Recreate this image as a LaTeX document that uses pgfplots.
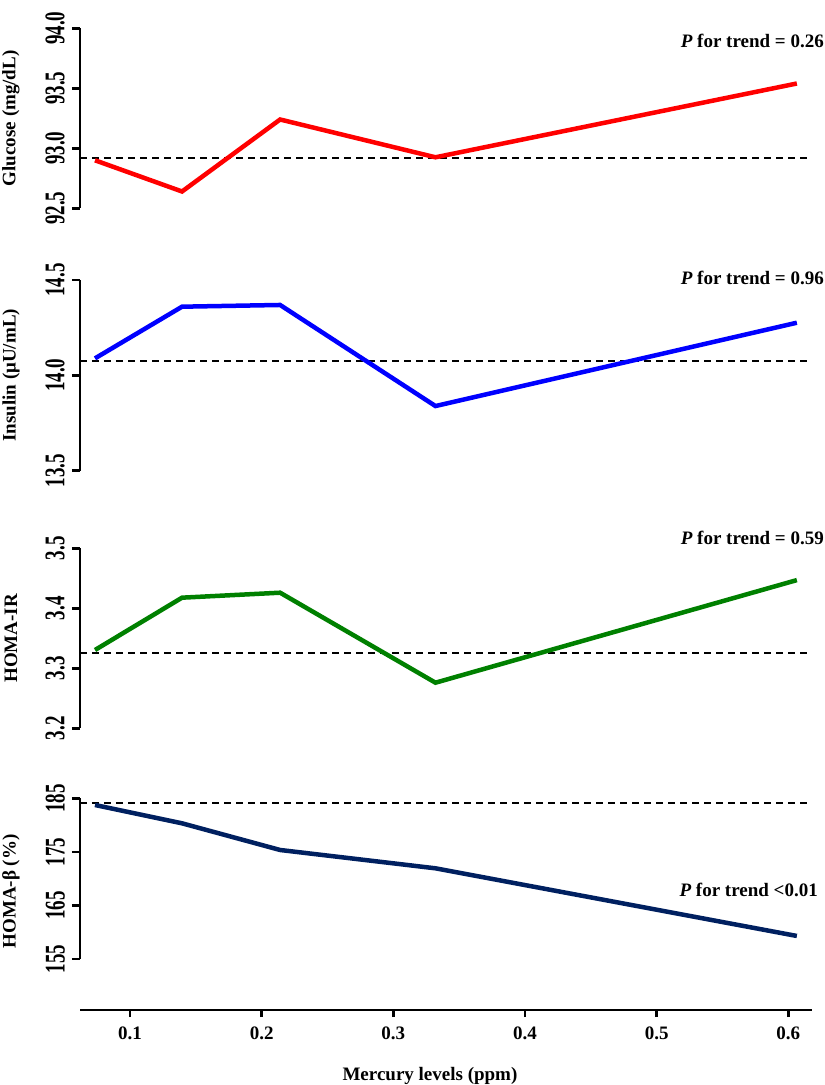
\documentclass[border=0pt]{standalone}
\usepackage{graphicx}
\usepackage{pgfplots}
\pgfplotsset{compat=1.18}
\usepackage{fontspec}
\setmainfont{Liberation Serif}
\definecolor{cred}{RGB}{255,0,0}
\definecolor{cblue}{RGB}{0,0,255}
\definecolor{cgreen}{RGB}{0,128,0}
\definecolor{cnavy}{RGB}{0,32,96}
\pgfplotsset{
  panel/.style={
    scale only axis, width=732pt,
    xmin=0.062, xmax=0.618,
    axis x line=none,
    axis y line=left,
    axis line style={-, line width=2.6pt},
    tick align=outside,
    major tick length=8pt,
    every tick/.style={black, line width=2.6pt},
    ytick pos=left,
    font=\fontsize{19}{22}\selectfont\bfseries,
    /pgf/number format/assume math mode=true,
    yticklabel={\scalebox{1}[1.5]{\pgfmathprintnumber{\tick}}},
    yticklabel style={rotate=90, anchor=south, inner sep=0pt, yshift=7pt},
    ylabel style={at={(axis description cs:-0.0943,0.5)}, anchor=center},
    clip=false,
  },
  dataline/.style={line width=4.5pt, line join=miter},
  refline/.style={black, line width=1.8pt, dash pattern=on 7pt off 5pt},
}
\begin{document}
\begin{tikzpicture}
% Panel 1: Glucose
\begin{axis}[panel, at={(80pt,876.7pt)}, anchor=south west, height=180pt,
  ymin=92.5, ymax=94.0, ytick={92.5,93.0,93.5,94.0},
  yticklabel style={/pgf/number format/.cd, fixed, fixed zerofill, precision=1},
  ylabel={Glucose (mg/dL)}]
\addplot[refline] coordinates {(0.062,92.917) (0.618,92.917)};
\addplot[dataline, cred] coordinates {(0.0734,92.90) (0.1395,92.64) (0.2140,93.24) (0.3320,92.925) (0.6065,93.54)};
\end{axis}
% Panel 2: Insulin
\begin{axis}[panel, at={(80pt,614.3pt)}, anchor=south west, height=190.7pt,
  ymin=13.5, ymax=14.5, ytick={13.5,14.0,14.5},
  yticklabel style={/pgf/number format/.cd, fixed, fixed zerofill, precision=1},
  ylabel={Insulin (μU/mL)}]
\addplot[refline] coordinates {(0.062,14.075) (0.618,14.075)};
\addplot[dataline, cblue] coordinates {(0.0734,14.089) (0.1395,14.360) (0.2140,14.369) (0.3320,13.839) (0.6065,14.276)};
\end{axis}
% Panel 3: HOMA-IR
\begin{axis}[panel, at={(80pt,356.7pt)}, anchor=south west, height=180pt,
  ymin=3.2, ymax=3.5, ytick={3.2,3.3,3.4,3.5},
  yticklabel style={/pgf/number format/.cd, fixed, fixed zerofill, precision=1},
  ylabel={HOMA-IR}]
\addplot[refline] coordinates {(0.062,3.326) (0.618,3.326)};
\addplot[dataline, cgreen] coordinates {(0.0734,3.3305) (0.1395,3.4177) (0.2140,3.426) (0.3320,3.276) (0.6065,3.447)};
\end{axis}
% Panel 4: HOMA-beta
\begin{axis}[panel, at={(80pt,126pt)}, anchor=south west, height=160.7pt,
  ymin=155, ymax=185, ytick={155,165,175,185},
  ylabel style={at={(axis description cs:-0.0943,0.42)}},
  ylabel={HOMA-β (\%)}]
\addplot[refline] coordinates {(0.062,184.18) (0.618,184.18)};
\addplot[dataline, cnavy] coordinates {(0.0734,183.75) (0.1395,180.33) (0.2140,175.35) (0.3320,171.93) (0.6065,159.3)};
\end{axis}
% x axis
\begin{axis}[scale only axis, width=732pt, height=10pt, at={(80pt,75pt)}, anchor=south west,
  xmin=0.062, xmax=0.618, ymin=0, ymax=1,
  axis y line=none, axis x line=bottom,
  axis line style={-, line width=2.6pt},
  tick align=outside, major tick length=7pt,
  every tick/.style={black, line width=2.6pt},
  xtick pos=bottom,
  xtick={0.1,0.2,0.3,0.4,0.5,0.6},
  font=\fontsize{19}{22}\selectfont\bfseries,
  /pgf/number format/assume math mode=true,
  xticklabel style={yshift=-6pt, /pgf/number format/.cd, fixed, fixed zerofill, precision=1},
  xlabel={Mercury levels (ppm)},
  xlabel style={at={(axis description cs:0.4781,0)}, anchor=base, yshift=-70pt}]
\addplot[draw=none] coordinates {(0.1,0) (0.6,0)};
\end{axis}
\begin{scope}[font=\fontsize{19}{22}\selectfont\bfseries]
\node[anchor=base east, inner sep=0pt] at (824pt,1037pt) {\textit{P} for trend = 0.26};
\node[anchor=base east, inner sep=0pt] at (824pt,800pt) {\textit{P} for trend = 0.96};
\node[anchor=base east, inner sep=0pt] at (824pt,540pt) {\textit{P} for trend = 0.59};
\node[anchor=base east, inner sep=0pt] at (818pt,188pt) {\textit{P} for trend <0.01};
\end{scope}
\pgfresetboundingbox
\useasboundingbox (0pt,0pt) rectangle (825pt,1085pt);
\end{tikzpicture}
\end{document}
